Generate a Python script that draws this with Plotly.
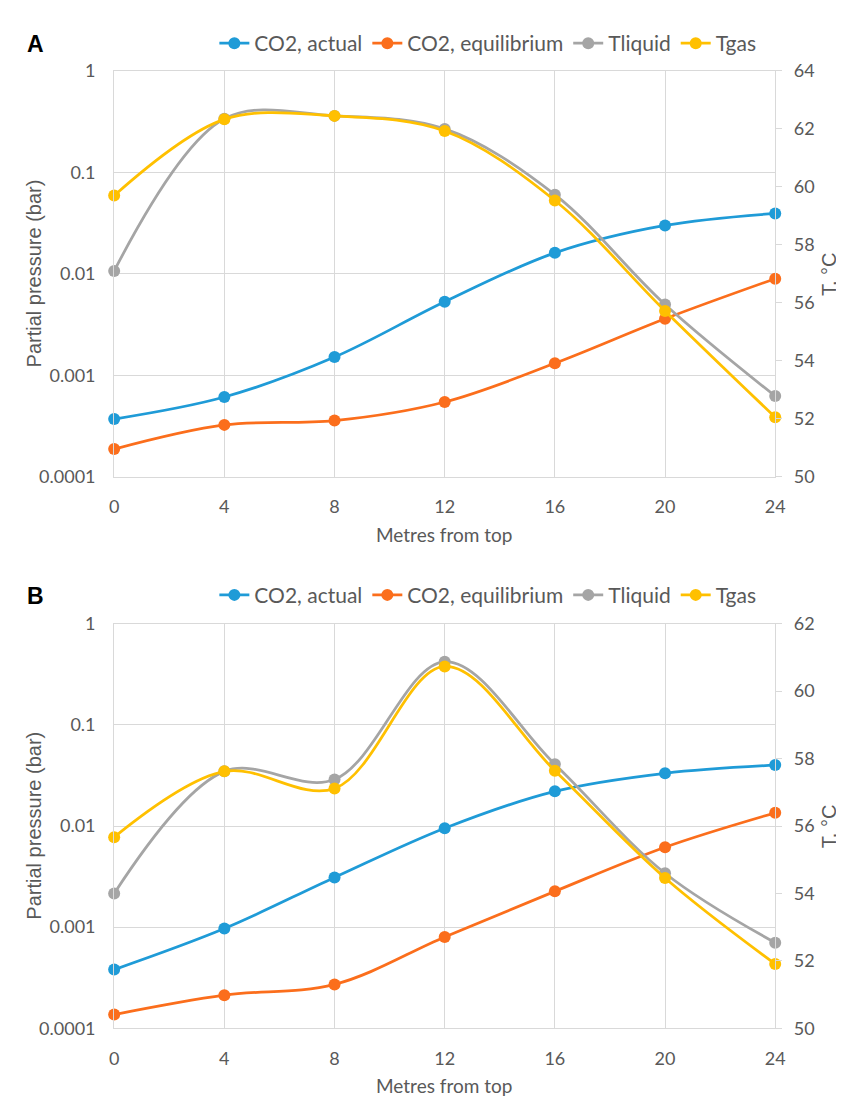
import plotly.graph_objects as go

W, H = 844, 1097

depth = [0, 4, 8, 12, 16, 20, 24]
x_ticks = [0, 4, 8, 12, 16, 20, 24]
p_tickvals = [1e-4, 1e-3, 1e-2, 1e-1, 1]
p_ticktext = ["0.0001", "0.001", "0.01", "0.1", "1"]

A_co2_actual = [3.7e-4, 6.1e-4, 1.51e-3, 5.3e-3, 0.0161, 0.0300, 0.0394]
A_co2_eq = [1.87e-4, 3.24e-4, 3.57e-4, 5.45e-4, 1.31e-3, 3.6e-3, 8.95e-3]
A_tliquid = [57.1, 62.35, 62.45, 62.0, 59.73, 55.94, 52.78]
A_tgas = [59.7, 62.33, 62.45, 61.93, 59.53, 55.72, 52.05]

B_co2_actual = [3.81e-4, 9.7e-4, 3.1e-3, 9.5e-3, 0.0220, 0.0332, 0.0400]
B_co2_eq = [1.37e-4, 2.13e-4, 2.72e-4, 8.0e-4, 2.26e-3, 6.17e-3, 0.0135]
B_tliquid = [54.0, 57.62, 57.38, 60.87, 57.83, 54.6, 52.54]
B_tgas = [55.67, 57.62, 57.11, 60.73, 57.64, 54.46, 51.91]

names = ["CO2, actual", "CO2, equilibrium", "Tliquid", "Tgas"]
colors = ["#1f9bd7", "#fb6e1c", "#a5a5a5", "#ffc000"]

GRID = "#d9d9d9"
TXT = "#595959"
TICKFONT = dict(family="Lato", size=18, color=TXT)


def px(x):
    return x / W


def py(y):
    return 1 - y / H


x_dom = [px(103), px(776)]
A_dom = [py(466), py(52)]
B_dom = [py(1029), py(616)]

fig = go.Figure()


def add_panel(xa, ya_left, ya_right, legend, series):
    for name, col, vals, right in series:
        fig.add_trace(go.Scatter(
            x=depth, y=vals, name=name, mode="lines+markers",
            line=dict(color=col, width=2.75, shape="spline", smoothing=1),
            marker=dict(color=col, size=12),
            xaxis=xa, yaxis=ya_right if right else ya_left,
            legend=legend, cliponaxis=False,
        ))


add_panel("x", "y", "y2", "legend", [
    (names[0], colors[0], A_co2_actual, False),
    (names[1], colors[1], A_co2_eq, False),
    (names[2], colors[2], A_tliquid, True),
    (names[3], colors[3], A_tgas, True),
])
add_panel("x2", "y3", "y4", "legend2", [
    (names[0], colors[0], B_co2_actual, False),
    (names[1], colors[1], B_co2_eq, False),
    (names[2], colors[2], B_tliquid, True),
    (names[3], colors[3], B_tgas, True),
])

xaxis_common = dict(
    domain=x_dom, range=[0, 24], tickvals=x_ticks, showgrid=True,
    gridcolor=GRID, gridwidth=1, showline=True, linecolor=GRID, linewidth=1,
    mirror=True, zeroline=False, tickfont=TICKFONT, ticks="",
    ticklabelstandoff=14,
)
yleft_common = dict(
    type="log", range=[-4, 0], tickvals=p_tickvals, ticktext=p_ticktext,
    showgrid=True, gridcolor=GRID, gridwidth=1, showline=True,
    linecolor=GRID, linewidth=1, mirror=True, zeroline=False,
    tickfont=TICKFONT, ticks="", ticklabelstandoff=14,
)
yright_common = dict(
    side="right", showgrid=False, zeroline=False, showline=False,
    tickfont=TICKFONT, ticks="outside", ticklen=6, tickcolor=GRID,
    dtick=2, ticklabelstandoff=8,
)

legend_font = dict(family="Lato", size=21, color=TXT)

fig.update_layout(
    width=W, height=H,
    margin=dict(l=0, r=0, t=0, b=0),
    paper_bgcolor="white", plot_bgcolor="white",
    xaxis=dict(xaxis_common, anchor="y"),
    yaxis=dict(yleft_common, domain=A_dom, anchor="x"),
    yaxis2=dict(yright_common, domain=A_dom, range=[50, 64], overlaying="y",
                anchor="x", tickvals=[50, 52, 54, 56, 58, 60, 62, 64]),
    xaxis2=dict(xaxis_common, anchor="y3"),
    yaxis3=dict(yleft_common, domain=B_dom, anchor="x2"),
    yaxis4=dict(yright_common, domain=B_dom, range=[50, 62], overlaying="y3",
                anchor="x2", tickvals=[50, 52, 54, 56, 58, 60, 62]),
    legend=dict(orientation="h", x=px(205), y=py(24), xanchor="left",
                yanchor="middle", font=legend_font,
                bgcolor="rgba(0,0,0,0)", itemwidth=30, tracegroupgap=0),
    legend2=dict(orientation="h", x=px(205), y=py(587), xanchor="left",
                 yanchor="middle", font=legend_font,
                 bgcolor="rgba(0,0,0,0)", itemwidth=30, tracegroupgap=0),
    showlegend=True,
)

ann_font = dict(family="Liberation Sans", size=20, color=TXT)
xt_font = dict(family="Lato", size=19, color=TXT)
for label, ytop, ybot, yleg, ytitle in [("A", 52, 466, 25, 525),
                                        ("B", 616, 1029, 588, 1087)]:
    fig.add_annotation(x=px(23), y=py(yleg), xref="paper", yref="paper",
                       text="<b>%s</b>" % label, showarrow=False,
                       font=dict(family="Liberation Sans", size=23, color="black"),
                       xanchor="center", yanchor="middle")
    fig.add_annotation(x=px(21), y=py((ytop + ybot) / 2), xref="paper",
                       yref="paper", text="Partial pressure (bar)",
                       showarrow=False, textangle=-90, font=ann_font,
                       xanchor="center", yanchor="middle")
    fig.add_annotation(x=px(831), y=py((ytop + ybot) / 2), xref="paper",
                       yref="paper", text="T, °C", showarrow=False,
                       textangle=-90, font=ann_font, xanchor="center",
                       yanchor="middle")
    fig.add_annotation(x=px(439), y=py(ytitle), xref="paper", yref="paper",
                       text="Metres from top", showarrow=False, font=xt_font,
                       xanchor="center", yanchor="middle")

fig.write_html("out.html")
